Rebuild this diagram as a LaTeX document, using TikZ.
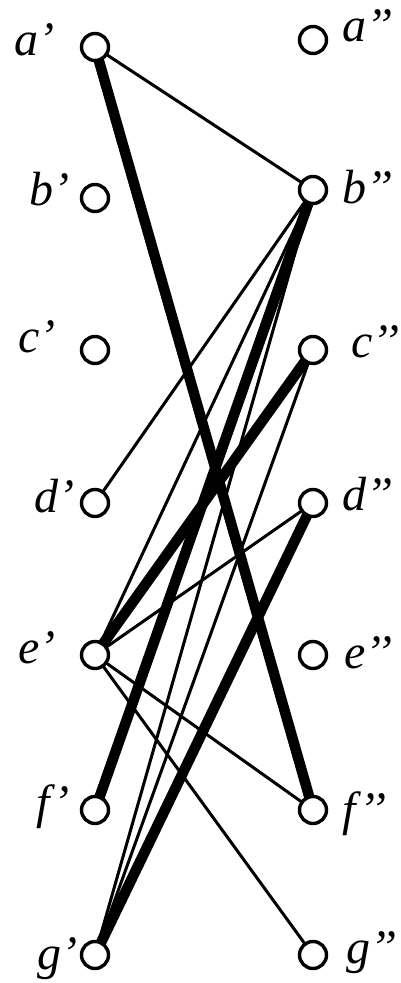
\documentclass[tikz,border=0pt]{standalone}
\usepackage{fontspec}
\setmainfont{Liberation Serif}[ItalicFont={Liberation Serif Italic}]
\usetikzlibrary{backgrounds}
\begin{document}
\begin{tikzpicture}[x=1pt,y=-1pt,
  vtx/.style={circle,draw,fill=white,line width=3.4pt,minimum size=27pt,inner sep=0pt},
  lbl/.style={font=\itshape\fontsize{48}{48}\selectfont,inner sep=0pt},
  lleft/.style={lbl,anchor=base east},
  lright/.style={lbl,anchor=base west},
  thinedge/.style={line width=3pt},
  thickedge/.style={line width=10.5pt}]
\useasboundingbox (0,0) rectangle (401,983);
% left column
\node[vtx] (a1) at (95,47) {};
\node[vtx] (b1) at (95,198) {};
\node[vtx] (c1) at (95,350) {};
\node[vtx] (d1) at (95,503) {};
\node[vtx] (e1) at (95,655) {};
\node[vtx] (f1) at (95,810) {};
\node[vtx] (g1) at (95,955) {};
% right column
\node[vtx] (a2) at (313,40) {};
\node[vtx] (b2) at (313,190) {};
\node[vtx] (c2) at (313,350) {};
\node[vtx] (d2) at (313,503) {};
\node[vtx] (e2) at (313,655) {};
\node[vtx] (f2) at (313,810) {};
\node[vtx] (g2) at (313,955) {};
% labels
\node[lleft] (la1) at ([shift={(-40,8)}]a1.center) {a\textquoteright};
\node[lleft] (lb1) at ([shift={(-25,7)}]b1.center) {b\textquoteright};
\node[lleft] (lc1) at ([shift={(-39,2)}]c1.center) {c\textquoteright};
\node[lleft] (ld1) at ([shift={(-20,9)}]d1.center) {d\textquoteright};
\node[lleft] (le1) at ([shift={(-39,8)}]e1.center) {e\textquoteright};
\node[lleft] (lf1) at ([shift={(-25,8)}]f1.center) {f\textquoteright};
\node[lleft] (lg1) at ([shift={(-17,14)}]g1.center) {g\textquoteright};
\node[lright] (la2) at ([shift={(29,1)}]a2.center) {a\textquoteright\textquoteright};
\node[lright] (lb2) at ([shift={(29,13)}]b2.center) {b\textquoteright\textquoteright};
\node[lright] (lc2) at ([shift={(38,7)}]c2.center) {c\textquoteright\textquoteright};
\node[lright] (ld2) at ([shift={(29,7)}]d2.center) {d\textquoteright\textquoteright};
\node[lright] (le2) at ([shift={(31,13)}]e2.center) {e\textquoteright\textquoteright};
\node[lright] (lf2) at ([shift={(29,15)}]f2.center) {f\textquoteright\textquoteright};
\node[lright] (lg2) at ([shift={(33,8)}]g2.center) {g\textquoteright\textquoteright};
% edges
\begin{scope}[on background layer]
  \draw[thinedge] (a1.center) -- (b2.center);
  \draw[thinedge] (b2.center) -- (d1.center);
  \draw[thinedge] (b2.center) -- (e1.center);
  \draw[thinedge] (b2.center) -- (g1.center);
  \draw[thinedge] (c2.center) -- (g1.center);
  \draw[thinedge] (d2.center) -- (e1.center);
  \draw[thinedge] (e1.center) -- (f2.center);
  \draw[thinedge] (e1.center) -- (g2.center);
  \draw[thickedge] (a1.center) -- (f2.center);
  \draw[thickedge] (b2.center) -- (f1.center);
  \draw[thickedge] (c2.center) -- (e1.center);
  \draw[thickedge] (d2.center) -- (g1.center);
\end{scope}
\end{tikzpicture}
\end{document}
